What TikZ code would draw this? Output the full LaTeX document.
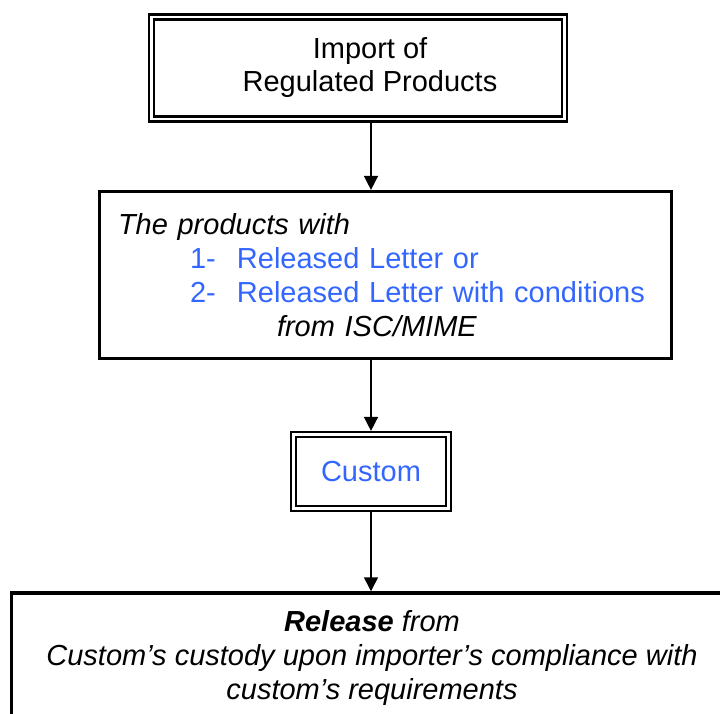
\documentclass[tikz,border=0pt]{standalone}
\usepackage{fontspec}
\setmainfont{Liberation Sans}
\usetikzlibrary{arrows.meta}
\definecolor{listblue}{RGB}{51,102,255}

\begin{document}
\begin{tikzpicture}[x=1pt, y=-1pt,
	dblbox/.style={draw=black, double, line width=2.4pt, double distance=2.6pt, outer sep=3.6pt, align=center, font=\fontsize{29}{33}\selectfont},
	thickbox/.style={draw=black, line width=3.2pt, font=\fontsize{29}{34}\selectfont},
	flow/.style={line width=1.5pt, -{Triangle[width=14pt,length=14pt]}}]
	\clip (0, 0) rectangle (720, 713);

	\node[dblbox, minimum width=412.6pt, minimum height=102pt] (import) at (358, 68) {\hspace*{24pt}Import of\\\hspace*{24pt}Regulated Products};
	\node[thickbox, text width=535pt, inner xsep=18.4pt, align=left, minimum height=167pt] (products) at (385.5, 275)
		{\textit{The products with}\\
		\hspace*{72pt}{\color{listblue}\makebox[47pt][l]{1-}Released Letter or}\\
		\hspace*{72pt}{\color{listblue}\makebox[47pt][l]{2-}Released Letter with conditions}\\
		\hspace*{159pt}\textit{from ISC/MIME}};
	\node[dblbox, line width=2pt, double distance=3pt, minimum width=155pt, minimum height=74pt, text=listblue] (custom) at (371, 471.5) {Custom};
	\node[thickbox, line width=3.5pt, align=center, minimum width=721pt, minimum height=130pt] (release) at (372, 658)
		{\textit{\textbf{Release} from}\\
		\textit{Custom’s custody upon importer’s compliance with}\\
		\textit{custom’s requirements}};

	\path[flow] (custom.north |- import.south) edge (custom.north |- products.north);
	\path[flow] (custom.north |- products.south) edge (custom.north);
	\path[flow] (custom.south) edge (custom.south |- release.north);

\end{tikzpicture}
\end{document}
